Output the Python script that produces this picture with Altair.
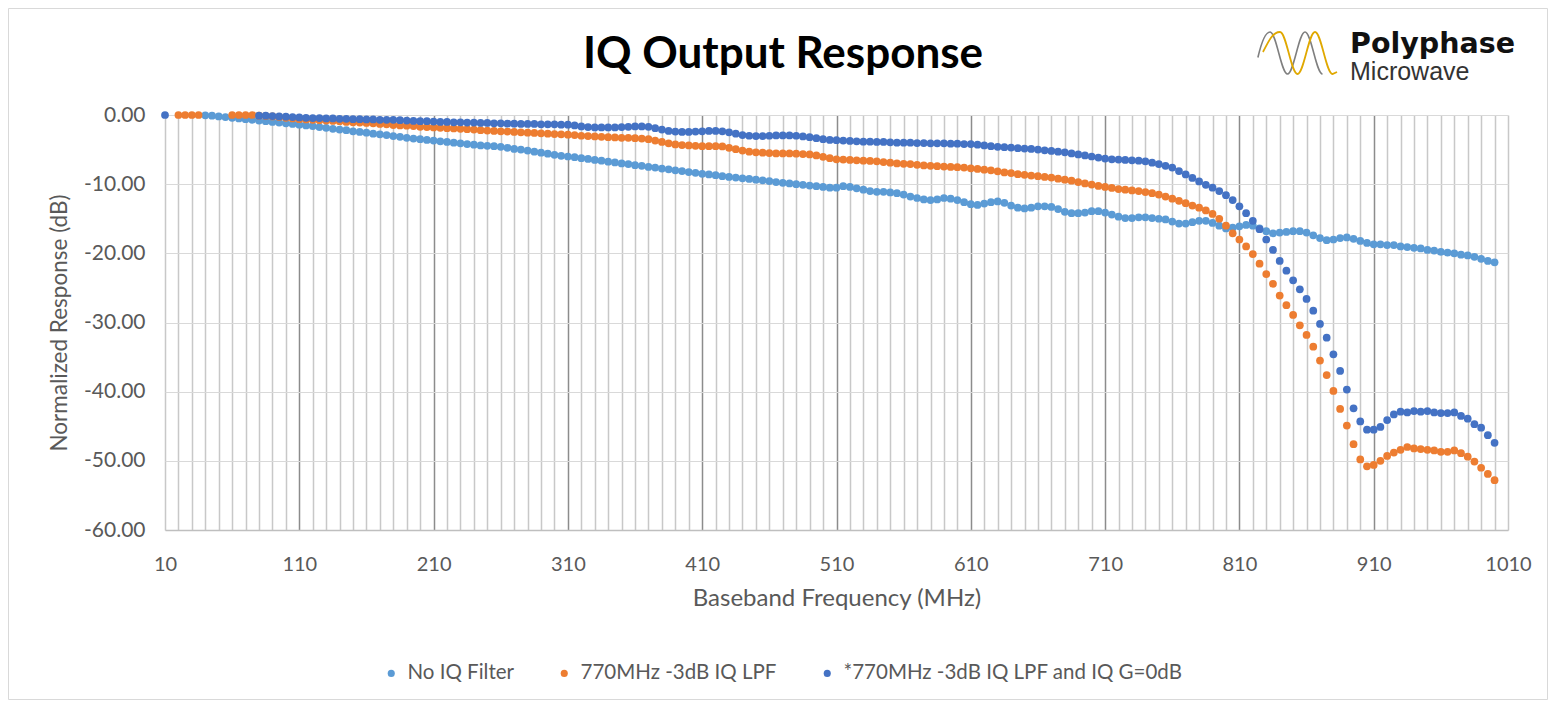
import altair as alt
import pandas as pd

# ---------------- data ----------------
freq = list(range(10, 1001, 5))  # MHz, 5 MHz steps

no_filter = [
    None, None, None, None, None, None, -0.05, -0.1, -0.2, -0.3, -0.4, -0.5, -0.6, -0.7, -0.8, -0.9, -1.0, -1.1, -1.2, -1.3,
    -1.4, -1.5, -1.6, -1.75, -1.85, -2.0, -2.1, -2.2, -2.35, -2.45, -2.55, -2.7, -2.8, -2.9, -3.05, -3.15, -3.3, -3.4, -3.5, -3.6,
    -3.7, -3.8, -3.9, -4.0, -4.1, -4.2, -4.3, -4.4, -4.45, -4.5, -4.6, -4.75, -4.9, -5.0, -5.15, -5.3, -5.45, -5.6, -5.75, -5.9,
    -6.0, -6.1, -6.25, -6.35, -6.5, -6.6, -6.75, -6.85, -7.0, -7.1, -7.25, -7.35, -7.5, -7.6, -7.75, -7.85, -8.0, -8.1, -8.25, -8.35,
    -8.5, -8.6, -8.7, -8.85, -8.95, -9.05, -9.15, -9.25, -9.35, -9.45, -9.55, -9.7, -9.8, -9.9, -10.0, -10.1, -10.2, -10.3, -10.4, -10.5,
    -10.5, -10.3, -10.4, -10.6, -10.8, -11.0, -11.1, -11.1, -11.2, -11.3, -11.5, -11.8, -12.0, -12.2, -12.3, -12.2, -12.0, -12.1, -12.3, -12.6,
    -12.9, -13.0, -12.8, -12.6, -12.5, -12.7, -13.1, -13.4, -13.5, -13.4, -13.2, -13.2, -13.3, -13.6, -14.0, -14.2, -14.2, -14.1, -13.9, -13.9,
    -14.1, -14.4, -14.7, -14.9, -14.9, -14.8, -14.8, -14.9, -15.0, -15.1, -15.4, -15.7, -15.7, -15.5, -15.3, -15.3, -15.6, -16.0, -16.4, -16.3,
    -16.1, -15.9, -16.0, -16.4, -16.8, -17.1, -17.0, -16.9, -16.8, -16.8, -17.0, -17.4, -17.8, -18.1, -18.0, -17.8, -17.7, -17.9, -18.2, -18.5,
    -18.7, -18.7, -18.8, -18.8, -19.0, -19.1, -19.2, -19.3, -19.5, -19.6, -19.8, -19.9, -20.0, -20.2, -20.3, -20.5, -20.8, -21.1, -21.3,
]

lpf = [
    None, None, 0.0, 0.0, 0.0, 0.0, None, None, None, None, 0.0, 0.0, 0.0, 0.0, -0.1, -0.15, -0.2, -0.3, -0.4, -0.5,
    -0.6, -0.65, -0.7, -0.75, -0.8, -0.85, -0.9, -1.0, -1.05, -1.1, -1.15, -1.2, -1.3, -1.35, -1.45, -1.5, -1.55, -1.6, -1.7, -1.75,
    -1.8, -1.85, -1.9, -1.95, -2.0, -2.05, -2.1, -2.2, -2.25, -2.3, -2.35, -2.4, -2.45, -2.5, -2.55, -2.6, -2.65, -2.7, -2.75, -2.8,
    -2.85, -2.9, -3.0, -3.05, -3.1, -3.15, -3.2, -3.25, -3.3, -3.3, -3.35, -3.4, -3.5, -3.7, -3.9, -4.1, -4.25, -4.35, -4.4, -4.45,
    -4.5, -4.5, -4.5, -4.55, -4.75, -4.95, -5.15, -5.3, -5.4, -5.45, -5.5, -5.55, -5.55, -5.55, -5.6, -5.65, -5.7, -5.85, -6.05, -6.25,
    -6.4, -6.45, -6.5, -6.55, -6.6, -6.65, -6.7, -6.8, -6.9, -7.0, -7.05, -7.1, -7.2, -7.3, -7.35, -7.4, -7.45, -7.5, -7.55, -7.6,
    -7.7, -7.8, -7.9, -8.0, -8.15, -8.3, -8.4, -8.55, -8.65, -8.75, -8.85, -8.95, -9.05, -9.2, -9.35, -9.5, -9.7, -9.9, -10.05, -10.25,
    -10.4, -10.55, -10.7, -10.8, -10.9, -11.0, -11.15, -11.3, -11.5, -11.8, -12.1, -12.4, -12.75, -13.1, -13.4, -13.8, -14.3, -15.0, -16.0, -17.1,
    -18.0, -19.0, -20.1, -21.5, -23.0, -24.4, -26.1, -27.5, -28.9, -30.4, -31.8, -33.5, -35.5, -37.6, -39.9, -42.5, -44.9, -47.6, -49.8, -50.8,
    -50.6, -50.0, -49.3, -48.8, -48.4, -48.0, -48.2, -48.3, -48.4, -48.5, -48.7, -48.7, -48.5, -48.9, -49.4, -50.1, -51.0, -51.9, -52.8,
]

lpf_g0 = [
    0.0, None, None, None, None, None, None, None, None, None, None, None, None, None, -0.1, -0.1, -0.15, -0.2, -0.25, -0.3,
    -0.35, -0.4, -0.45, -0.45, -0.5, -0.5, -0.55, -0.55, -0.6, -0.6, -0.65, -0.65, -0.7, -0.7, -0.7, -0.75, -0.8, -0.85, -0.9, -0.9,
    -0.95, -1.0, -1.0, -1.05, -1.05, -1.1, -1.1, -1.15, -1.15, -1.2, -1.2, -1.25, -1.25, -1.3, -1.3, -1.3, -1.35, -1.35, -1.35, -1.4,
    -1.4, -1.5, -1.65, -1.75, -1.8, -1.8, -1.8, -1.8, -1.75, -1.7, -1.65, -1.65, -1.7, -1.9, -2.1, -2.3, -2.4, -2.45, -2.45, -2.4,
    -2.35, -2.3, -2.3, -2.35, -2.5, -2.7, -2.9, -3.0, -3.05, -3.05, -3.0, -2.95, -2.95, -2.95, -3.0, -3.1, -3.2, -3.35, -3.5, -3.6,
    -3.65, -3.7, -3.75, -3.8, -3.85, -3.85, -3.9, -3.9, -3.95, -4.0, -4.0, -4.0, -4.05, -4.05, -4.1, -4.1, -4.1, -4.15, -4.15, -4.2,
    -4.2, -4.3, -4.4, -4.5, -4.6, -4.65, -4.7, -4.8, -4.85, -4.9, -5.0, -5.1, -5.2, -5.3, -5.4, -5.55, -5.7, -5.85, -6.0, -6.15,
    -6.3, -6.4, -6.45, -6.5, -6.55, -6.6, -6.7, -6.9, -7.1, -7.35, -7.6, -8.1, -8.6, -9.1, -9.6, -10.1, -10.5, -11.0, -11.6, -12.3,
    -13.2, -14.2, -15.3, -16.5, -18.0, -19.5, -21.1, -22.5, -23.9, -25.2, -26.6, -28.3, -30.2, -32.2, -34.6, -37.0, -39.7, -42.4, -44.3, -45.5,
    -45.5, -45.1, -44.1, -43.3, -42.9, -43.0, -42.8, -42.9, -42.8, -43.0, -43.1, -43.1, -43.0, -43.5, -43.9, -44.7, -45.2, -46.3, -47.4,
]

series_names = ["No IQ Filter", "770MHz -3dB IQ LPF", "*770MHz -3dB IQ LPF and IQ G=0dB"]
series_colors = ["#5B9BD5", "#ED7D31", "#4472C4"]
x_grid_values = list(range(10, 1011, 10))
y_tick_values = [-60, -50, -40, -30, -20, -10, 0]
chart_title = "IQ Output Response"
x_title = "Baseband Frequency (MHz)"
y_title = "Normalized Response (dB)"
logo_top = "Polyphase"
logo_bottom = "Microwave"

rows = []
for k, (name, vals) in enumerate(zip(series_names, [no_filter, lpf, lpf_g0])):
    for f, v in zip(freq, vals):
        if v is not None:
            rows.append({"freq": f, "resp": v, "series": name, "k": k})
df = pd.DataFrame(rows)
one = pd.DataFrame({"t": [chart_title], "a": [logo_top], "b": [logo_bottom]})

W, H = 1343, 415
FONT = "Lato"
GREY_TXT = "#595959"

grid_color = {
    "condition": {"test": "datum.value % 100 == 10 && datum.value > 10 && datum.value < 1010",
                  "value": "#8C8C8C"},
    "value": "#C8C8C8",
}

points = alt.Chart(df).mark_circle(size=60, opacity=1).encode(
    x=alt.X(
        "freq:Q",
        scale=alt.Scale(domain=[10, 1010], nice=False, zero=False),
        axis=alt.Axis(
            values=x_grid_values,
            labelExpr="datum.value % 100 == 10 ? format(datum.value, 'd') : ''",
            labelOverlap=False, labelFlush=False, labelBound=False,
            labelFont=FONT, labelFontSize=20, labelColor=GREY_TXT, labelPadding=24,
            ticks=False, domainColor="#BFBFBF", domainWidth=1.5,
            grid=True, gridColor=grid_color, gridWidth=1.5,
            title=x_title, titleFont=FONT, titleFontSize=24, titleFontWeight="normal",
            titleColor=GREY_TXT, titlePadding=12,
        ),
    ),
    y=alt.Y(
        "resp:Q",
        scale=alt.Scale(domain=[-60, 0], nice=False, zero=False),
        axis=alt.Axis(
            values=y_tick_values,
            labelExpr="(datum.value < 0 ? '-' : '') + format(abs(datum.value), '.2f')",
            labelFont=FONT, labelFontSize=21, labelColor=GREY_TXT, labelPadding=20,
            labelFlush=False,
            ticks=False, domain=False,
            grid=True, gridColor="#D9D9D9", gridWidth=1.2,
            title=y_title, titleFont=FONT, titleFontSize=22.5, titleFontWeight="normal",
            titleColor=GREY_TXT, titlePadding=12,
        ),
    ),
    color=alt.Color(
        "series:N",
        scale=alt.Scale(domain=series_names, range=series_colors),
        legend=alt.Legend(
            orient="none", legendX=216, legendY=548, direction="horizontal", title=None,
            labelFont=FONT, labelFontSize=20.5, labelColor=GREY_TXT, labelLimit=0,
            symbolType="circle", symbolSize=50, symbolStrokeWidth=0, columnPadding=40,
            labelOffset=6,
        ),
    ),
    order=alt.Order("k:Q"),
)

title = alt.Chart(one).mark_text(
    font=FONT, fontSize=44, fontWeight="bold", color="#000000", align="center", baseline="middle"
).encode(text="t:N", x=alt.value(618), y=alt.value(-60))

logo_a = alt.Chart(one).mark_text(
    font="DejaVu Sans", fontSize=28.5, fontWeight="bold", color="#111111", align="left", baseline="alphabetic"
).encode(text="a:N", x=alt.value(1185), y=alt.value(-62))

logo_b = alt.Chart(one).mark_text(
    font="Liberation Sans", fontSize=25, color="#333333", align="left", baseline="alphabetic"
).encode(text="b:N", x=alt.value(1185), y=alt.value(-35))

gray_wave = ("M -0.78 0.1 C -0.7 -0.244 -0.62 -0.467 -0.511 -0.467 "
             "C -0.371 -0.467 -0.262 0.467 -0.122 0.467 "
             "C 0.018 0.467 0.127 -0.467 0.267 -0.467 "
             "C 0.407 -0.467 0.516 0.467 0.656 0.467")
gold_wave = ("M -0.667 -0.022 C -0.533 -0.289 -0.444 -0.467 -0.289 -0.467 "
             "C -0.149 -0.467 -0.04 0.467 0.1 0.467 "
             "C 0.24 0.467 0.349 -0.467 0.489 -0.467 "
             "C 0.629 -0.467 0.738 0.467 0.878 0.467 L 0.978 0.422")

wave1 = alt.Chart(one).mark_point(
    shape=gray_wave, size=8100, filled=False, stroke="#7F7F7F", strokeWidth=1.6, opacity=1
).encode(x=alt.value(1128), y=alt.value(-62))
wave2 = alt.Chart(one).mark_point(
    shape=gold_wave, size=8100, filled=False, stroke="#E0A800", strokeWidth=1.8, opacity=1
).encode(x=alt.value(1128), y=alt.value(-62))

border = alt.Chart(one).mark_rect(
    fillOpacity=0, stroke="#D9D9D9", strokeWidth=1
).encode(x=alt.value(-156.5), x2=alt.value(1382.5), y=alt.value(-106.5), y2=alt.value(584.5))

chart = alt.layer(border, points, title, wave1, wave2, logo_a, logo_b).properties(
    width=W, height=H,
    padding={"left": 157, "top": 107, "right": 40, "bottom": 170},
    autosize="none",
).configure_view(strokeWidth=0)

chart.save("out.html", embed_options={"renderer": "svg", "actions": False})
